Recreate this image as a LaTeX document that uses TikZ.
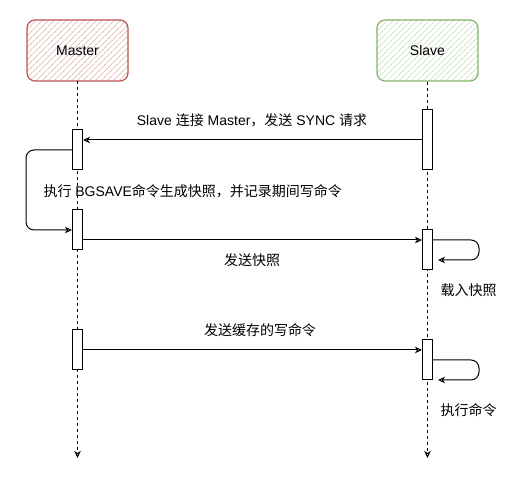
\documentclass[tikz,border=0pt]{standalone}
\usepackage{fontspec}
\setmainfont{Liberation Sans}
\newfontfamily\cjk{Noto Sans CJK SC}
\usetikzlibrary{arrows.meta,patterns.meta}
\definecolor{mred}{HTML}{B85450}
\definecolor{sgreen}{HTML}{82B366}
\begin{document}
\begin{tikzpicture}[x=1pt,y=-1pt,
  font=\fontsize{14}{16}\selectfont, line width=1pt,
  >={Stealth[open,length=7pt,width=6.5pt,inset=2pt]},
  actor/.style={rounded corners=8pt, minimum width=101pt, minimum height=61pt, line width=1.2pt, inner sep=0pt},
  act/.style={draw, fill=white, minimum width=10pt, minimum height=40pt, inner sep=0pt},
  life/.style={dash pattern=on 3pt off 3pt},
  lbl/.style={inner sep=0pt}]
\useasboundingbox (0,0) rectangle (523,489);
% actors
\node[actor, draw=mred, pattern={Lines[angle=45,distance=4pt,line width=1pt]}, pattern color=mred!38] (master) at (77.5,50.5) {Master};
\node[actor, draw=sgreen, pattern={Lines[angle=45,distance=4pt,line width=1pt]}, pattern color=sgreen!38] (slave) at (427.5,50.5) {Slave};
% lifelines
\coordinate (mend) at (77.5,458);
\coordinate (send) at (427.5,458);
\draw[life,->] (master.south) -- (mend);
\draw[life,->] (slave.south) -- (send);
% activations
\node[act] (ma1) at (77.5,150) {};
\node[act, minimum height=60pt] (sa1) at (427.5,140) {};
\node[act] (ma2) at (77.5,230) {};
\node[act] (sa2) at (427.5,250) {};
\node[act] (ma3) at (77.5,350) {};
\node[act] (sa3) at (427.5,360) {};
% messages
\draw[->] (sa1.west) -- (sa1.west -| ma1.east);
\draw[->, rounded corners=8pt] (ma1.west) -- ++(-46,0) |- (ma2.west);
\draw[->] ([yshift=-10pt]ma2.east) -- ([yshift=10pt]sa2.west);
\draw[->, rounded corners=8pt] ([yshift=10pt]sa2.east) -- ++(46,0) |- ([xshift=5pt,yshift=-10pt]sa2.east);
\draw[->] (ma3.east) -- (ma3.east -| sa3.west);
\draw[->, rounded corners=8pt] (sa3.east) -- ++(46,0) |- ([xshift=5pt,yshift=-20pt]sa3.east);
% labels
\node[lbl] (l1) at (252,120) {Slave {\cjk 连接} Master{\cjk ，发送} SYNC {\cjk 请求}};
\node[lbl, anchor=west] (l2) at (43,191) {{\cjk 执行} BGSAVE{\cjk 命令生成快照，并记录期间写命令}};
\node[lbl] (l3) at (252,260) {\cjk 发送快照};
\node[lbl, anchor=west] (l4) at (440,290) {\cjk 载入快照};
\node[lbl] (l5) at (260,330) {\cjk 发送缓存的写命令};
\node[lbl, anchor=west] (l6) at (440,410) {\cjk 执行命令};
\end{tikzpicture}
\end{document}
